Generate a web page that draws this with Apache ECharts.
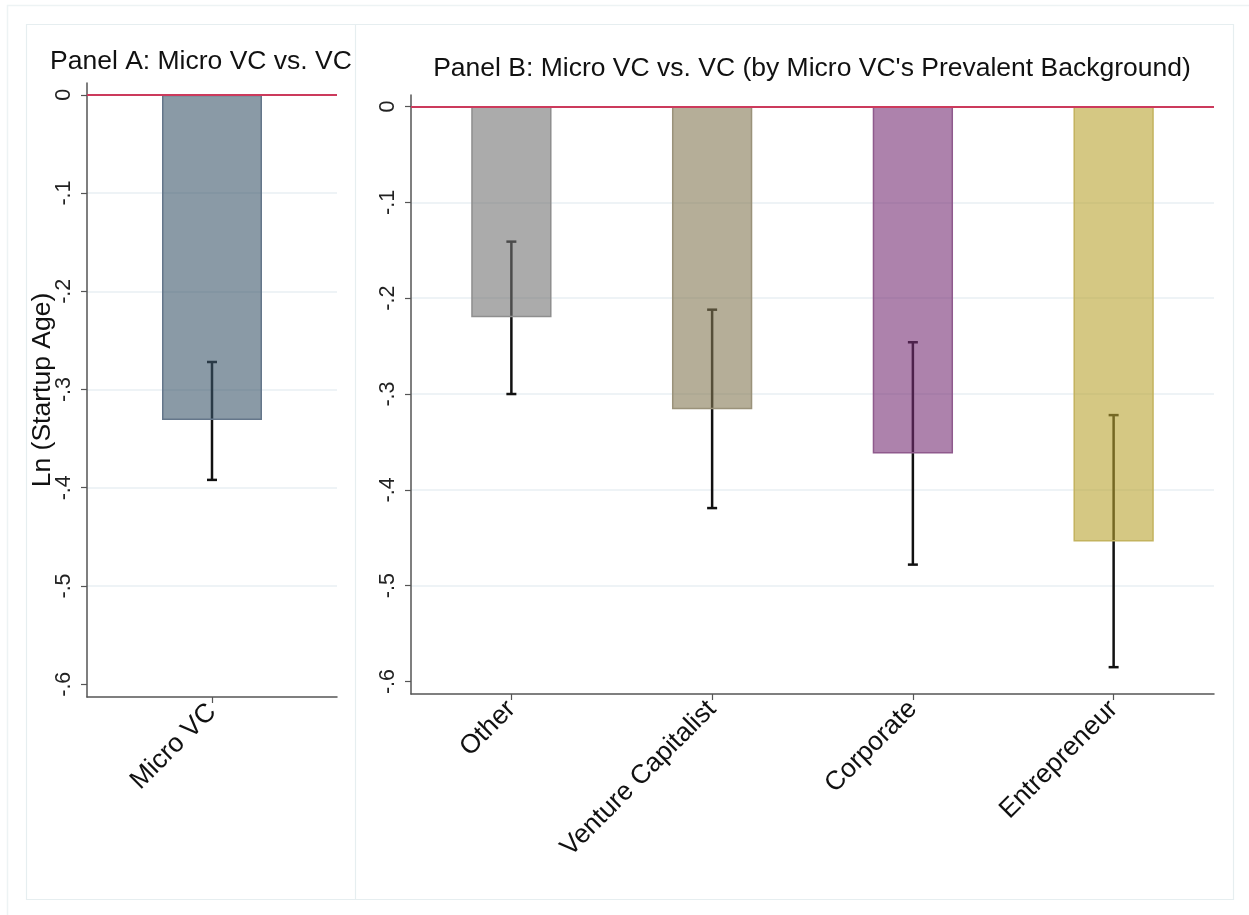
<!DOCTYPE html>
<html>
<head>
<meta charset="utf-8">
<title>Micro VC vs. VC: Startup Age</title>
<script src="https://cdn.jsdelivr.net/npm/echarts@6/dist/echarts.min.js"></script>
<style>
  html, body { margin: 0; padding: 0; background: #ffffff; }
  #chart { width: 1249px; height: 915px; }
</style>
</head>
<body>
<div id="chart"></div>
<script>
// Panel A: all micro VCs against VCs
const panelACategories = ['Micro VC'];
const panelAValues = [-0.331];
const panelALow = [-0.392];
const panelAHigh = [-0.272];

// Panel B: split by the micro VC's prevalent background
const panelBCategories = ['Other', 'Venture Capitalist', 'Corporate', 'Entrepreneur'];
const panelBValues = [-0.220, -0.316, -0.362, -0.454];
const panelBLow = [-0.300, -0.419, -0.478, -0.585];
const panelBHigh = [-0.141, -0.212, -0.246, -0.322];

// Shared y scale
const yTicks = [-0.6, -0.5, -0.4, -0.3, -0.2, -0.1, 0];
const yMin = -0.613;
const yMax = 0.012;

// Fill / outline colours (fills are translucent so the CI lines show through tinted)
const panelAFill = ['rgba(60,87,107,0.6)'];
const panelAEdge = ['#64768a'];
const panelBFill = ['rgba(115,115,115,0.6)', 'rgba(132,120,83,0.6)', 'rgba(118,47,117,0.6)', 'rgba(185,163,48,0.6)'];
const panelBEdge = ['#8e8e8e', '#9a927a', '#8f5a8d', '#c3b35f'];

const FONT = '"Liberation Sans", Arial, Helvetica, sans-serif';
const AXIS_COLOR = '#555555';
const BIG = 26.5;

function stataNum(v) {
  if (Math.abs(v) < 1e-9) return '0';
  const s = String(Math.round(v * 10) / 10);
  return s.replace('0.', '.');
}

function errorBarItem(params, api) {
  const idx = api.value(0);
  const lo = api.coord([idx, api.value(1)]);
  const hi = api.coord([idx, api.value(2)]);
  const half = 5;
  const style = { stroke: '#111111', lineWidth: 2.5 };
  return {
    type: 'group',
    children: [
      { type: 'line', shape: { x1: lo[0], y1: lo[1], x2: hi[0], y2: hi[1] }, style: style },
      { type: 'line', shape: { x1: lo[0] - half, y1: lo[1], x2: lo[0] + half, y2: lo[1] }, style: style },
      { type: 'line', shape: { x1: hi[0] - half, y1: hi[1], x2: hi[0] + half, y2: hi[1] }, style: style }
    ]
  };
}

function yAxisFor(gridIndex, withName) {
  const ax = {
    type: 'value',
    gridIndex: gridIndex,
    min: yMin,
    max: yMax,
    axisLine: { show: true, onZero: false, lineStyle: { color: AXIS_COLOR, width: 1.5 } },
    axisTick: { show: true, length: 6, customValues: yTicks, lineStyle: { color: AXIS_COLOR, width: 1.2 } },
    axisLabel: {
      customValues: yTicks,
      rotate: 90,
      margin: 12,
      fontSize: 21.5,
      color: '#222222',
      fontFamily: FONT,
      formatter: stataNum
    },
    splitLine: { show: true, showMinLine: false, showMaxLine: false, lineStyle: { color: '#e8eff3', width: 1.5 } }
  };
  if (withName) {
    ax.name = 'Ln (Startup Age)';
    ax.nameLocation = 'middle';
    ax.nameRotate = 90;
    ax.nameGap = 31;
    ax.nameMoveOverlap = false;
    ax.nameTextStyle = { fontSize: BIG, color: '#111111', fontFamily: FONT };
  }
  return ax;
}

function xAxisFor(gridIndex, cats) {
  return {
    type: 'category',
    gridIndex: gridIndex,
    data: cats,
    boundaryGap: true,
    axisLine: { show: true, onZero: false, lineStyle: { color: AXIS_COLOR, width: 1.5 } },
    axisTick: { show: true, alignWithLabel: true, length: 6, lineStyle: { color: AXIS_COLOR, width: 1.2 } },
    axisLabel: { rotate: 45, margin: 11, fontSize: BIG, color: '#111111', fontFamily: FONT, interval: 0 },
    splitLine: { show: false }
  };
}

const zeroLine = {
  silent: true,
  symbol: ['none', 'none'],
  label: { show: false },
  lineStyle: { color: '#cc3a5c', width: 2, type: 'solid' },
  data: [{ yAxis: 0 }]
};

const chart = echarts.init(document.getElementById('chart'), null, { renderer: 'canvas' });

chart.setOption({
  backgroundColor: '#ffffff',
  animation: false,
  title: [
    {
      text: 'Panel A: Micro VC vs. VC',
      left: 45, top: 43,
      textStyle: { fontSize: BIG, fontWeight: 'normal', color: '#111111', fontFamily: FONT }
    },
    {
      text: "Panel B: Micro VC vs. VC (by Micro VC's Prevalent Background)",
      left: 807, top: 50, textAlign: 'center',
      textStyle: { fontSize: BIG, fontWeight: 'normal', color: '#111111', fontFamily: FONT }
    }
  ],
  graphic: [
    { type: 'rect', shape: { x: 7.5, y: 5.5, width: 1300, height: 1000 }, style: { fill: 'none', stroke: '#edf3f4', lineWidth: 1.5 }, silent: true },
    { type: 'rect', shape: { x: 26.5, y: 24.5, width: 1207, height: 875 }, style: { fill: 'none', stroke: '#e6eef0', lineWidth: 1.2 }, silent: true },
    { type: 'line', shape: { x1: 355.5, y1: 24.5, x2: 355.5, y2: 899.5 }, style: { stroke: '#e6eef0', lineWidth: 1.2 }, silent: true }
  ],
  grid: [
    { left: 87, right: 912, top: 83, bottom: 218, containLabel: false },
    { left: 411, right: 35, top: 95, bottom: 221, containLabel: false }
  ],
  xAxis: [xAxisFor(0, panelACategories), xAxisFor(1, panelBCategories)],
  yAxis: [yAxisFor(0, true), yAxisFor(1, false)],
  series: [
    {
      type: 'custom',
      name: 'CI A',
      xAxisIndex: 0, yAxisIndex: 0,
      z: 1,
      renderItem: errorBarItem,
      encode: { x: 0, y: [1, 2] },
      data: panelALow.map((lo, i) => [i, lo, panelAHigh[i]]),
      markLine: zeroLine
    },
    {
      type: 'bar',
      name: 'Micro VC',
      xAxisIndex: 0, yAxisIndex: 0,
      z: 2,
      barWidth: '40%',
      data: panelAValues.map((v, i) => ({
        value: v,
        itemStyle: { color: panelAFill[i], borderColor: panelAEdge[i], borderWidth: 1.5 }
      }))
    },
    {
      type: 'custom',
      name: 'CI B',
      xAxisIndex: 1, yAxisIndex: 1,
      z: 1,
      renderItem: errorBarItem,
      encode: { x: 0, y: [1, 2] },
      data: panelBLow.map((lo, i) => [i, lo, panelBHigh[i]]),
      markLine: zeroLine
    },
    {
      type: 'bar',
      name: 'By background',
      xAxisIndex: 1, yAxisIndex: 1,
      z: 2,
      barWidth: '40%',
      data: panelBValues.map((v, i) => ({
        value: v,
        itemStyle: { color: panelBFill[i], borderColor: panelBEdge[i], borderWidth: 1.5 }
      }))
    }
  ]
});
</script>
</body>
</html>
